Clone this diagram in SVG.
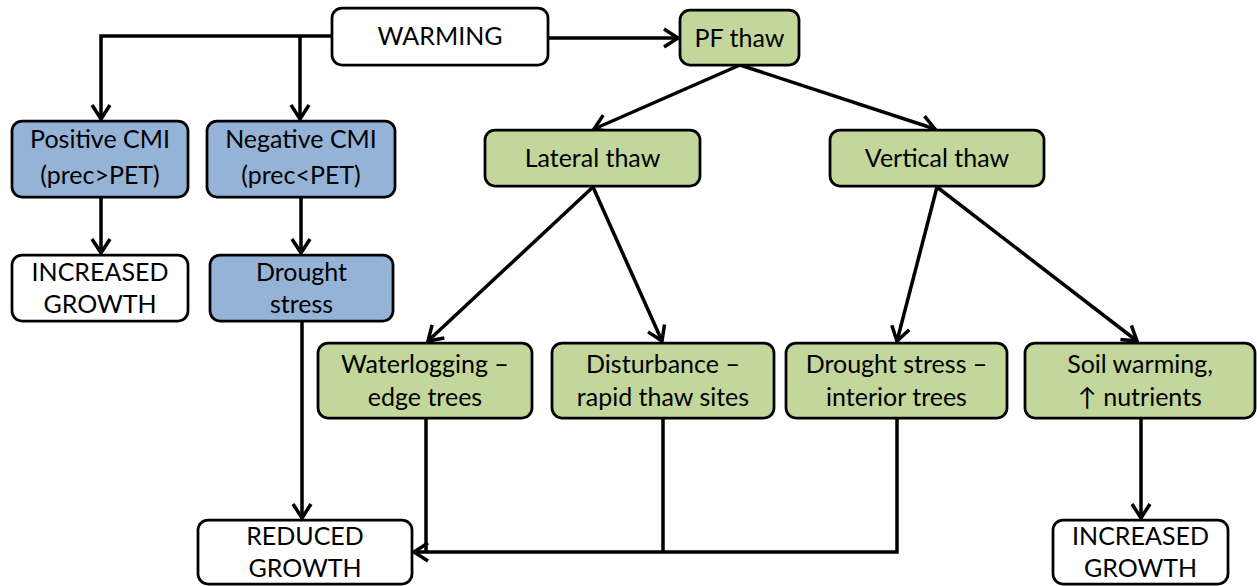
<svg xmlns="http://www.w3.org/2000/svg" width="1257" height="586" viewBox="0 0 1257 586">
<style>
  .box { stroke: #000; stroke-width: 2.75; }
  .w { fill: #ffffff; }
  .b { fill: #95B3D7; }
  .g { fill: #C3D69B; }
  text { font-family: Lato, "Liberation Sans", "DejaVu Sans", sans-serif; font-size: 25px; fill: #000; text-anchor: middle; }
  .c { fill: none; stroke: #000; stroke-width: 3.5; }
</style>
<defs>
  <marker id="arr" markerUnits="userSpaceOnUse" viewBox="-18 -12 20 24" markerWidth="20" markerHeight="24" refX="0" refY="0" orient="auto" overflow="visible">
    <path d="M -14 -9 L 0 0 L -14 9" fill="none" stroke="#000" stroke-width="3.5" stroke-linejoin="miter"/>
  </marker>
</defs>

<g id="connectors">
  <path class="c" d="M332 36 H101 V119" marker-end="url(#arr)"/>
  <path class="c" d="M300 36 V119" marker-end="url(#arr)"/>
  <path class="c" d="M548 38 H678" marker-end="url(#arr)"/>
  <path class="c" d="M740 65 L594 129" marker-end="url(#arr)"/>
  <path class="c" d="M740 65 L935 129" marker-end="url(#arr)"/>
  <path class="c" d="M101 197 V253" marker-end="url(#arr)"/>
  <path class="c" d="M301 197 V253" marker-end="url(#arr)"/>
  <path class="c" d="M302 321 V518" marker-end="url(#arr)"/>
  <path class="c" d="M593 187 L428 341" marker-end="url(#arr)"/>
  <path class="c" d="M593 187 L662 341" marker-end="url(#arr)"/>
  <path class="c" d="M937 187 L897 341" marker-end="url(#arr)"/>
  <path class="c" d="M937 187 L1137 341" marker-end="url(#arr)"/>
  <path class="c" d="M897 418 V552 H414" marker-end="url(#arr)"/>
  <path class="c" d="M663 418 V552"/>
  <path class="c" d="M426 418 V552"/>
  <path class="c" d="M1141 418 V518" marker-end="url(#arr)"/>
</g>

<g id="warming">
  <rect class="box w" x="332" y="8" width="216" height="57" rx="10"/>
  <text x="440" y="45">WARMING</text>
</g>
<g id="pf-thaw">
  <rect class="box g" x="680" y="10" width="119" height="55" rx="10"/>
  <text x="739.5" y="47">PF thaw</text>
</g>
<g id="positive-cmi">
  <rect class="box b" x="12" y="121" width="176" height="76" rx="10"/>
  <text x="100" y="148">Positive CMI</text>
  <text x="100" y="184">(prec&gt;PET)</text>
</g>
<g id="negative-cmi">
  <rect class="box b" x="207" y="121" width="188" height="76" rx="10"/>
  <text x="301" y="148">Negative CMI</text>
  <text x="301" y="184">(prec&lt;PET)</text>
</g>
<g id="lateral-thaw">
  <rect class="box g" x="485" y="130" width="215" height="56" rx="10"/>
  <text x="592.5" y="167">Lateral thaw</text>
</g>
<g id="vertical-thaw">
  <rect class="box g" x="830" y="130" width="214" height="56" rx="10"/>
  <text x="937" y="167">Vertical thaw</text>
</g>
<g id="increased-growth-left">
  <rect class="box w" x="12" y="255" width="176" height="66" rx="10"/>
  <text x="100" y="281">INCREASED</text>
  <text x="100" y="313">GROWTH</text>
</g>
<g id="drought-stress">
  <rect class="box b" x="210" y="255" width="183" height="66" rx="10"/>
  <text x="301.5" y="281">Drought</text>
  <text x="301.5" y="313">stress</text>
</g>
<g id="waterlogging">
  <rect class="box g" x="318" y="343" width="214" height="75" rx="10"/>
  <text x="425" y="373">Waterlogging –</text>
  <text x="425" y="406">edge trees</text>
</g>
<g id="disturbance">
  <rect class="box g" x="552" y="343" width="222" height="75" rx="10"/>
  <text x="663" y="373">Disturbance –</text>
  <text x="663" y="406">rapid thaw sites</text>
</g>
<g id="drought-interior">
  <rect class="box g" x="786" y="343" width="221" height="75" rx="10"/>
  <text x="896.5" y="373">Drought stress –</text>
  <text x="896.5" y="406">interior trees</text>
</g>
<g id="soil-warming">
  <rect class="box g" x="1025" y="343" width="230" height="75" rx="10"/>
  <text x="1140" y="373">Soil warming,</text>
  <text x="1140" y="406">↑ nutrients</text>
</g>
<g id="reduced-growth">
  <rect class="box w" x="198" y="520" width="214" height="64" rx="10"/>
  <text x="305" y="545">REDUCED</text>
  <text x="305" y="577">GROWTH</text>
</g>
<g id="increased-growth-right">
  <rect class="box w" x="1053" y="520" width="175" height="64" rx="10"/>
  <text x="1140.5" y="545">INCREASED</text>
  <text x="1140.5" y="577">GROWTH</text>
</g>
</svg>
